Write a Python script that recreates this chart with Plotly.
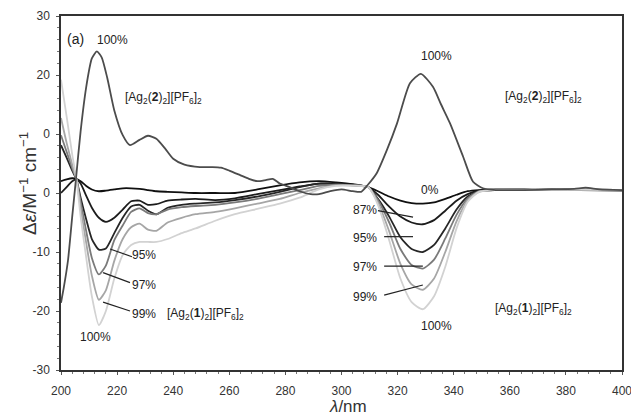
import plotly.graph_objects as go

# ---------------- data ----------------
# common wavelength grid for the [Ag2(1)2][PF6]2 titration series (nm)
wl_mix = [200, 202, 204, 205.5, 207, 209, 211, 213.5, 216, 219, 222, 225, 228, 231, 234,
          238, 243, 248, 255, 262, 270, 278, 285, 292, 298, 304, 309.5, 313, 317, 321,
          325, 329, 333, 337, 341, 345, 349, 355, 365, 375, 385, 400]

mix_100 = [19.2, 13, 6.5, 2.3, -4, -11, -17.5, -22.4, -20, -14.5, -10.5, -8.8, -8.3, -8.3, -8.3,
           -7.8, -6.8, -6.0, -4.7, -3.6, -2.7, -1.8, -0.8, 0.6, 1.2, 1.2, 1.0, -2, -8, -14.5,
           -18.5, -19.7, -17.5, -12.5, -6, -1.5, 0.2, 0.5, 0.5, 0.5, 0.6, 0.5]
mix_99 = [12.7, 8.5, 4.8, 2.3, -2.5, -8.5, -14, -18.1, -16.5, -11.5, -7.8, -5.8, -5.2, -6.2, -6.4,
          -5, -4.2, -3.6, -3.2, -2.6, -1.8, -1.0, 0, 0.8, 1.3, 1.3, 1.0, -1.6, -6.5, -12,
          -15.5, -16.4, -14.5, -10, -4.8, -1.2, 0.2, 0.5, 0.5, 0.6, 0.5, 0.5]
mix_97 = [9.8, 7, 4.2, 2.3, -1.5, -6.5, -11, -13.8, -12.3, -8, -5.5, -3.2, -2.6, -3.4, -3.6,
          -2.8, -2.4, -2.2, -2.0, -1.6, -1.0, -0.2, 0.5, 1.2, 1.4, 1.3, 1.0, -1.2, -5, -9.5,
          -12.2, -12.8, -11.3, -7.7, -3.7, -0.9, 0.3, 0.5, 0.6, 0.5, 0.6, 0.5]
mix_95 = [8.1, 6, 3.8, 2.3, -0.8, -4.5, -7.8, -9.6, -9.4, -6.8, -4.2, -2.3, -2.0, -3.0, -3.6,
          -2.5, -2.0, -1.8, -1.6, -1.2, -0.6, 0.2, 1.0, 1.6, 1.5, 1.3, 1.0, -1, -4, -7.5,
          -9.5, -10, -8.8, -6, -2.8, -0.6, 0.3, 0.5, 0.5, 0.6, 0.5, 0.5]
mix_87 = [0.0, 1.0, 2.0, 2.3, 1.6, -0.5, -2.5, -4.2, -4.9, -4.2, -2.8, -1.4, -1.3, -2.0, -1.9,
          -1.3, -1.1, -1.0, -1.2, -0.9, -0.2, 0.5, 1.1, 1.6, 1.6, 1.4, 1.0, -0.3, -2.3, -4.0,
          -5.0, -5.3, -4.6, -3.0, -1.3, -0.2, 0.4, 0.5, 0.5, 0.6, 0.5, 0.4]
mix_0 = [2.0, 2.3, 2.5, 2.4, 2.0, 1.2, 0.6, 0.3, 0.4, 0.6, 0.8, 0.8, 0.7, 0.5, 0.3,
         0.2, 0.1, 0, 0, 0, 0.6, 1.3, 1.8, 2.0, 1.8, 1.5, 1.0, 0.3, -0.6, -1.3,
         -1.7, -1.8, -1.6, -1.0, -0.3, 0.3, 0.5, 0.6, 0.6, 0.5, 0.6, 0.5]

# [Ag2(2)2][PF6]2, 100 %
wl_ag2 = [200, 201, 202.5, 204, 205.3, 207, 209, 211, 212.8, 214.5, 216.5, 219, 222, 224.6,
          228, 231, 234, 237, 240, 244, 249.5, 254, 257, 260, 264, 267, 270, 273, 275.5,
          278, 281.5, 285, 289, 292, 296, 300, 304, 307, 309.4, 312.6, 316.2, 319.8, 324.4,
          328.3, 332.6, 335.5, 338.7, 343.4, 346.9, 350.4, 355, 365, 375, 383, 387, 392, 400]
ag2_100 = [-18.6, -16, -11.4, -4, 2.2, 10.5, 18, 22.8, 24, 23, 19.5, 14, 9.8, 8.1,
           9.0, 9.7, 9.2, 7.6, 5.8, 4.8, 4.4, 4.4, 4.3, 3.8, 3.0, 2.4, 2.0, 2.2, 2.4,
           1.6, 1.0, 0.3, -0.2, -0.2, 0.3, 0.6, 0.3, 0.2, 1.4, 3.4, 7.3, 11.8, 18.6,
           20.2, 18.0, 15.0, 11.8, 6.1, 1.9, 0.8, 0.5, 0.5, 0.6, 0.7, 0.9, 0.6, 0.5]

series = [
    ("0%", wl_mix, mix_0, "#101010"),
    ("87%", wl_mix, mix_87, "#1c1c1c"),
    ("95%", wl_mix, mix_95, "#262626"),
    ("97%", wl_mix, mix_97, "#7a7a7a"),
    ("99%", wl_mix, mix_99, "#a6a6a6"),
    ("100% [Ag2(1)2]", wl_mix, mix_100, "#d2d2d2"),
    ("100% [Ag2(2)2]", wl_ag2, ag2_100, "#4c4c4c"),
]

# y tick labels as printed in the figure
y_tickvals = [30, 20, 10, 0, -10, -20, -30]
y_ticktext = ["30", "20", "0", "0", "-10", "-20", "-30"]

AG2_2 = "[Ag<sub>2</sub>(<b>2</b>)<sub>2</sub>][PF<sub>6</sub>]<sub>2</sub>"
AG2_1 = "[Ag<sub>2</sub>(<b>1</b>)<sub>2</sub>][PF<sub>6</sub>]<sub>2</sub>"

# text labels: (x nm, y, text, size)
labels = [
    (205.3, 26.1, "(a)", 14),
    (218.5, 25.9, "100%", 12),
    (236.5, 16.1, AG2_2, 12),
    (333.8, 23.2, "100%", 12),
    (372.0, 16.3, AG2_2, 12),
    (331.5, 0.5, "0%", 12),
    (308.4, -2.9, "87%", 12),
    (308.4, -7.7, "95%", 12),
    (308.4, -12.5, "97%", 12),
    (308.4, -17.6, "99%", 12),
    (334.0, -22.6, "100%", 12),
    (368.6, -19.7, AG2_1, 12),
    (229.6, -10.5, "95%", 12),
    (229.6, -15.6, "97%", 12),
    (229.6, -20.5, "99%", 12),
    (212.2, -24.4, "100%", 12),
    (251.5, -20.5, AG2_1, 12),
]

# pointer segments: (x0, y0, x1, y1)
pointers = [
    (217.5, -9.5, 225.3, -10.8),
    (215.0, -13.5, 224.6, -15.2),
    (215.0, -18.5, 224.6, -20.0),
    (313.0, -3.0, 325.5, -4.1),
    (315.2, -7.4, 325.5, -7.4),
    (315.2, -12.4, 329.0, -12.4),
    (315.2, -17.3, 329.0, -15.6),
]

# ---------------- figure ----------------
fig = go.Figure()
for name, x, y, col in series:
    fig.add_trace(go.Scatter(x=x, y=y, mode="lines", name=name,
                             line=dict(color=col, width=1.8, shape="spline", smoothing=0.6),
                             showlegend=False))

for x0, y0, x1, y1 in pointers:
    fig.add_shape(type="line", x0=x0, y0=y0, x1=x1, y1=y1, xref="x", yref="y",
                  line=dict(color="#222222", width=1.2))

for x, y, t, s in labels:
    fig.add_annotation(x=x, y=y, text=t, showarrow=False, xref="x", yref="y",
                       font=dict(size=s, color="#222222"))

# axis titles
fig.add_annotation(xref="paper", yref="paper", x=-0.059, y=0.528, xanchor="center",
                   yanchor="middle", text="Δ<i>ε</i>/M<sup>−1</sup> cm<sup>−1</sup>",
                   textangle=-90, showarrow=False, font=dict(size=19, color="#333333"))
fig.add_annotation(xref="paper", yref="paper", x=0.511, y=-0.102, xanchor="center",
                   yanchor="middle", text="<i>λ</i>/nm", showarrow=False,
                   font=dict(size=17, color="#333333"))

fig.update_layout(
    width=631, height=415,
    margin=dict(l=61, r=9, t=16, b=45, autoexpand=False),
    paper_bgcolor="white", plot_bgcolor="white",
    font=dict(family="Liberation Sans, Arial, sans-serif", size=12, color="#333333"),
)

fig.update_xaxes(range=[200, 400], dtick=20, tick0=200, showgrid=False, zeroline=False,
                 automargin=False, ticklabeloverflow="allow",
                 showline=True, linecolor="#333333", linewidth=1.5, mirror=True,
                 ticks="outside", ticklen=3, tickcolor="#555555",
                 minor=dict(dtick=4, ticks="outside", ticklen=2, tickcolor="#777777"),
                 tickfont=dict(size=12, color="#333333"), ticklabelstandoff=6)
fig.update_yaxes(range=[-30, 30], tickvals=y_tickvals, ticktext=y_ticktext,
                 showgrid=False, zeroline=False, automargin=False,
                 ticklabeloverflow="allow",
                 showline=True, linecolor="#333333", linewidth=1.5, mirror=True,
                 ticks="outside", ticklen=3, tickcolor="#555555",
                 minor=dict(dtick=2, ticks="outside", ticklen=2, tickcolor="#777777"),
                 tickfont=dict(size=12, color="#333333"), ticklabelstandoff=4)

fig.write_html("out.html", config={"displayModeBar": False},
               post_script="document.body.style.margin='0';document.body.style.padding='0';"
                           "document.body.style.overflow='hidden';")
